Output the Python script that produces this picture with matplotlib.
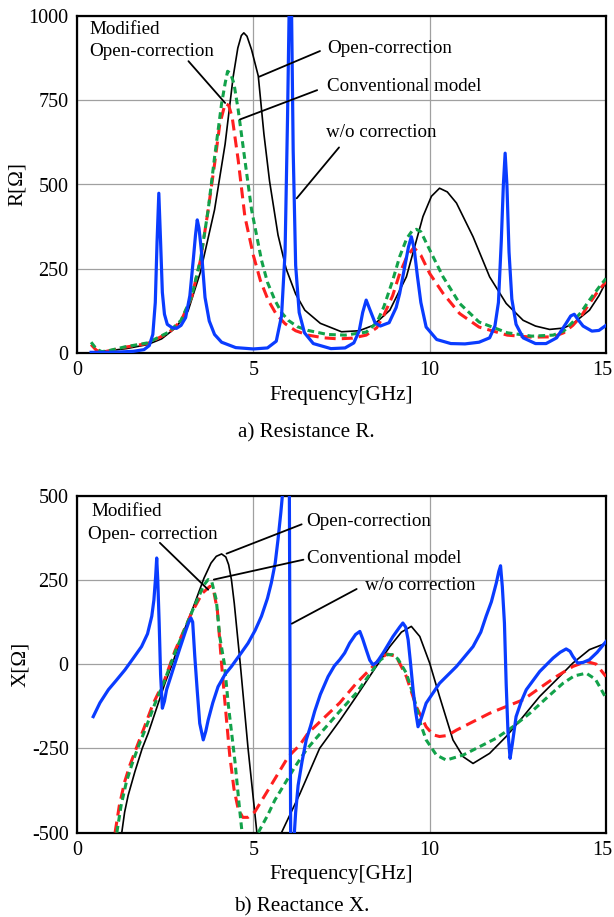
import numpy as np
import matplotlib
matplotlib.use("Agg")
import matplotlib.pyplot as plt
from matplotlib.transforms import ScaledTranslation

plt.rcParams['font.family'] = ['Liberation Serif', 'DejaVu Serif']
plt.rcParams['axes.unicode_minus'] = False

# ---- a) Resistance R ----
f_r_open = [0.45, 1.0, 1.4, 2.0, 2.4, 2.8, 3.15, 3.5, 3.9, 4.2, 4.43, 4.56, 4.66, 4.73, 4.82, 4.95, 5.14,
            5.3, 5.46, 5.7, 5.93, 6.2, 6.46, 6.9, 7.5, 8.0, 8.4, 8.87, 9.34, 9.81, 10.05, 10.28, 10.5,
            10.76, 11.23, 11.7, 12.17, 12.65, 13.0, 13.4, 13.8, 14.06, 14.53, 14.8, 15.0]
r_open = [3, 8, 13, 25, 42, 75, 125, 240, 425, 620, 821, 905, 942, 950, 940, 900, 822,
          650, 510, 350, 250, 175, 127, 88, 63, 66, 82, 127, 226, 405, 465, 489, 478,
          445, 345, 226, 147, 97, 80, 70, 74, 87, 127, 170, 211]

f_r_mod = [0.4, 0.55, 0.7, 0.9, 1.35, 2.0, 2.6, 2.95, 3.25, 3.5, 3.72, 3.9, 4.05, 4.2, 4.3, 4.4, 4.57,
           4.76, 5.0, 5.2, 5.42, 5.65, 5.9, 6.2, 6.55, 7.0, 7.4, 7.8, 8.2, 8.5, 8.7, 8.95, 9.15, 9.35,
           9.55, 9.75, 10.0, 10.38, 10.85, 11.4, 12.2, 12.9, 13.5, 13.8, 14.06, 14.3, 14.53, 14.75, 15.0]
r_mod = [25, 8, 3, 6, 17, 28, 60, 95, 165, 275, 425, 560, 680, 740, 735, 700, 573,
         405, 290, 215, 157, 115, 87, 66, 53, 45, 42, 44, 53, 75, 112, 170, 236, 285,
         313, 290, 236, 177, 117, 77, 53, 47, 48, 60, 82, 110, 147, 180, 212]

f_r_conv = [0.4, 0.55, 0.7, 0.9, 1.35, 2.0, 2.6, 2.95, 3.25, 3.5, 3.72, 3.9, 4.1, 4.2, 4.27, 4.35, 4.45,
            4.57, 4.76, 4.95, 5.23, 5.4, 5.61, 5.8, 5.99, 6.25, 6.55, 7.1, 7.6, 8.2, 8.5, 8.7, 8.95,
            9.15, 9.35, 9.5, 9.62, 9.75, 10.0, 10.38, 10.85, 11.4, 12.2, 12.9, 13.5, 13.8, 14.06,
            14.3, 14.53, 14.8, 15.0]
r_conv = [32, 12, 4, 7, 18, 30, 62, 97, 167, 276, 425, 580, 740, 800, 836, 830, 800,
          722, 573, 425, 276, 210, 157, 120, 97, 78, 67, 55, 53, 62, 90, 137, 215,
          286, 340, 362, 367, 360, 306, 226, 147, 92, 60, 50, 53, 65, 92,
          122, 157, 195, 221]

f_r_wo = [0.4, 0.8, 1.2, 1.6, 1.9, 2.05, 2.15, 2.22, 2.27, 2.32, 2.37, 2.42, 2.48, 2.56, 2.7, 2.82,
          2.95, 3.08, 3.2, 3.3, 3.36, 3.41, 3.46, 3.53, 3.63, 3.75, 3.9, 4.1, 4.5, 5.0, 5.4, 5.65,
          5.8, 5.9, 5.97, 6.02, 6.05, 6.08, 6.13, 6.2, 6.3, 6.45, 6.7, 7.2, 7.6, 7.85, 8.0, 8.1,
          8.2, 8.3, 8.45, 8.6, 8.85, 9.05, 9.15, 9.3, 9.4, 9.48, 9.56, 9.65, 9.75, 9.9, 10.2, 10.6,
          11.0, 11.4, 11.7, 11.85, 11.95, 12.03, 12.09, 12.14, 12.19, 12.25, 12.33, 12.45, 12.65,
          13.0, 13.3, 13.6, 13.85, 14.0, 14.1, 14.2, 14.35, 14.6, 14.8, 15.0]
r_wo = [2, 2, 3, 5, 10, 22, 55, 150, 330, 474, 330, 180, 115, 85, 75, 73,
        82, 105, 170, 280, 350, 395, 370, 300, 165, 95, 55, 32, 16, 12, 15, 35,
        110, 300, 700, 1050, 1150, 1050, 600, 260, 120, 60, 28, 13, 15, 30, 65, 120,
        157, 130, 90, 80, 90, 135, 177, 260, 315, 345, 310, 230, 150, 77, 40, 28,
        27, 32, 45, 80, 150, 330, 500, 593, 500, 300, 160, 85, 45,
        28, 28, 45, 85, 110, 115, 100, 80, 65, 67, 82]

# ---- b) Reactance X ----
f_x_open = [1.27, 1.35, 1.45, 1.64, 1.85, 2.02, 2.5, 2.7, 2.97, 3.3, 3.6, 3.8, 3.95, 4.1, 4.22, 4.3,
            4.38, 4.46, 4.54, 4.63, 4.74, 4.85, 4.98, 5.1, np.nan, 5.8, 6.32, 6.88, 7.45, 7.92, 8.39,
            8.87, 9.2, 9.48, 9.72, 10.0, 10.28, 10.66, 10.95, 11.23, 11.7, 12.17, 12.65, 13.12, 13.59,
            14.06, 14.53, 15.0]
x_open = [-500, -440, -390, -320, -250, -205, -55, 0, 82, 170, 255, 300, 320, 327, 318, 295,
          250, 180, 95, 0, -125, -250, -380, -500, np.nan, -500, -385, -250, -168, -96, -22,
          52, 95, 112, 82, 3, -96, -225, -275, -295, -265, -215, -156, -96, -47,
          3, 43, 62]

f_x_mod = [1.08, 1.2, 1.35, 1.5, 1.68, 1.9, 2.15, 2.49, 2.78, 3.25, 3.55, 3.77, 3.88, 3.98, 4.1, 4.2,
           4.33, 4.45, 4.57, 4.7, 4.85, 5.04, 5.5, 5.99, 6.32, 6.55, 7.45, 7.92, 8.39, 8.6, 8.8, 9.05,
           9.34, 9.62, 9.9, 10.1, 10.28, 10.5, 10.76, 11.23, 11.7, 12.17, 12.65, 13.12, 13.59, 14.06,
           14.44, 14.72, 15.0]
x_mod = [-500, -420, -350, -300, -250, -190, -120, -45, 40, 152, 210, 231, 215, 160, 0, -120,
         -270, -370, -430, -455, -455, -439, -360, -275, -240, -205, -115, -57, -7, 18, 30, 23,
         -37, -126, -186, -210, -215, -212, -196, -171, -146, -126, -106, -71, -37, -7,
         8, 0, -37]

f_x_conv = [1.13, 1.25, 1.4, 1.55, 1.72, 1.95, 2.2, 2.49, 2.8, 3.3, 3.6, 3.72, 3.82, 3.95, 4.05,
            4.18, 4.29, 4.48, 4.6, 4.68, np.nan, 5.14, 5.4, 5.61, 6.18, 6.5, 6.74, 7.45, 7.92, 8.39,
            8.6, 8.8, 8.95, 9.1, 9.34, 9.5, 9.62, 9.75, 9.9, 10.19, 10.47, 10.95, 11.42, 11.89,
            12.36, 12.84, 13.31, 13.78, 14.1, 14.44, 14.7, 14.82, 15.0]
x_conv = [-500, -420, -350, -300, -250, -190, -120, -47, 40, 165, 235, 251, 245, 190, 80,
          0, -120, -290, -420, -500, np.nan, -500, -450, -404, -305, -255, -225, -140, -86, -17,
          12, 28, 28, 15, -27, -80, -126, -180, -225, -270, -285, -270, -245, -220,
          -186, -146, -101, -57, -35, -27, -45, -67, -101]

f_x_wo = [0.46, 0.65, 0.89, 1.1, 1.36, 1.6, 1.83, 2.0, 2.12, 2.18, 2.23, 2.26, 2.29, 2.33, 2.37, 2.42,
          2.48, 2.54, 2.65, 2.78, 2.92, 3.06, 3.16, 3.23, 3.28, 3.34, 3.41, 3.48, 3.58, 3.65, 3.72,
          3.85, 4.0, 4.2, 4.38, 4.6, 4.85, 5.05, 5.23, 5.4, 5.51, 5.62, 5.7, 5.78, 5.84, 5.92, 5.98,
          6.02, 6.04, 6.06, 6.1, 6.14, 6.2, 6.27, 6.38, 6.5, 6.62, 6.74, 6.9, 7.12, 7.3, 7.45, 7.59,
          7.73, 7.9, 8.02, 8.1, 8.2, 8.3, 8.39, 8.5, 8.68, 8.96, 9.15, 9.24, 9.32, 9.39, 9.46, 9.53,
          9.6, 9.67, 9.75, 9.9, 10.28, 10.76, 11.23, 11.45, 11.6, 11.75, 11.89, 11.96, 12.01, 12.06,
          12.12, 12.17, 12.22, 12.28, 12.34, 12.45, 12.6, 12.74, 13.12, 13.5, 13.7, 13.87, 13.98,
          14.06, 14.2, 14.35, 14.53, 14.75, 15.0]
x_wo = [-156, -115, -76, -50, -17, 18, 52, 90, 142, 190, 260, 315, 250, 122, -30, -131,
        -110, -76, -40, 3, 48, 92, 122, 137, 125, 23, -80, -176, -225, -200, -166,
        -115, -67, -30, -7, 25, 62, 100, 142, 195, 241, 300, 370, 450, 519, 700, 750,
        550, 0, -550, -750, -540, -440, -360, -290, -225, -185, -140, -90, -37, -5, 13, 33,
        62, 88, 97, 75, 43, 12, -2, 5, 33, 82, 110, 122, 110, 72, 0, -76,
        -140, -186, -165, -116, -57, -7, 52, 95, 142, 185, 241, 275, 292, 230,
        122, -60, -200, -280, -240, -156, -110, -76, -22, 18, 35, 45, 38,
        23, 3, 5, 13, 35, 67]

x_ticks = [0, 5, 10, 15]
r_ticks = [0, 250, 500, 750, 1000]
x_react_ticks = [-500, -250, 0, 250, 500]

C_BLACK = "black"
C_RED = "#ff1f1f"
C_GREEN = "#12a24a"
C_BLUE = "#0a3cff"
FS = 13.7      # annotations
FS_TICK = 14.5
FS_LAB = 15.2


def style_axes(fig, ax, yticks, ylim, ylabel):
    ax.set_xlim(0, 15)
    ax.set_ylim(*ylim)
    ax.set_xticks(x_ticks)
    ax.set_yticks(yticks)
    ax.tick_params(length=0, labelsize=FS_TICK, pad=6)
    ax.grid(True, color="#a0a0a0", lw=0.9)
    ax.set_axisbelow(True)
    for s in ax.spines.values():
        s.set_linewidth(1.6)
        s.set_color("black")
    ax.set_ylabel(ylabel, fontsize=FS_LAB, labelpad=1)
    ax.set_xlabel("Frequency[GHz]", fontsize=FS_LAB, labelpad=4)
    # last x label sits slightly left, inside the figure
    lbl = ax.get_xticklabels()[-1]
    lbl.set_transform(lbl.get_transform() + ScaledTranslation(-4 / 100, 0, fig.dpi_scale_trans))


def draw_curves(ax, f_o, y_o, f_m, y_m, f_c, y_c, f_w, y_w):
    ax.plot(f_o, y_o, color=C_BLACK, lw=1.2, zorder=3)
    ax.plot(f_m, y_m, color=C_RED, lw=2.2, ls=(0, (3.6, 2.0)), zorder=4)
    ax.plot(f_c, y_c, color=C_GREEN, lw=2.2, ls=(0, (2.2, 1.4)), zorder=5)
    ax.plot(f_w, y_w, color=C_BLUE, lw=2.3, zorder=6)


def leader(ax, p_from, p_to):
    ax.annotate("", xy=p_to, xytext=p_from,
                arrowprops=dict(arrowstyle="-", color="black", lw=1.3,
                                shrinkA=0, shrinkB=0), zorder=8)


fig = plt.figure(figsize=(6.14, 9.17), dpi=100)
ax1 = fig.add_axes([77 / 614, 1 - 353 / 917, 529 / 614, 337 / 917])
ax2 = fig.add_axes([77 / 614, 1 - 832.5 / 917, 529 / 614, 336.8 / 917])

# top panel
draw_curves(ax1, f_r_open, r_open, f_r_mod, r_mod, f_r_conv, r_conv, f_r_wo, r_wo)
style_axes(fig, ax1, r_ticks, (0, 1000), "R[Ω]")
ax1.text(0.34, 960, "Modified", fontsize=FS, va="center", ha="left")
ax1.text(0.34, 896, "Open-correction", fontsize=FS, va="center", ha="left")
leader(ax1, (3.16, 866), (4.2, 742))
ax1.text(7.11, 904, "Open-correction", fontsize=FS, va="center", ha="left")
leader(ax1, (6.89, 896), (5.17, 820))
ax1.text(7.08, 791, "Conventional model", fontsize=FS, va="center", ha="left")
leader(ax1, (6.81, 780), (4.62, 693))
ax1.text(7.05, 654, "w/o correction", fontsize=FS, va="center", ha="left")
leader(ax1, (7.43, 610), (6.23, 459))
fig.text(306 / 614, 1 - 433 / 917, "a) Resistance R.", fontsize=FS_LAB, ha="center", va="center")

# bottom panel
draw_curves(ax2, f_x_open, x_open, f_x_mod, x_mod, f_x_conv, x_conv, f_x_wo, x_wo)
style_axes(fig, ax2, x_react_ticks, (-500, 500), "X[Ω]")
ax2.text(0.42, 453, "Modified", fontsize=FS, va="center", ha="left")
ax2.text(0.30, 385, "Open- correction", fontsize=FS, va="center", ha="left")
leader(ax2, (2.35, 360), (3.72, 221))
ax2.text(6.51, 423, "Open-correction", fontsize=FS, va="center", ha="left")
leader(ax2, (6.37, 415), (4.24, 328))
ax2.text(6.51, 313, "Conventional model", fontsize=FS, va="center", ha="left")
leader(ax2, (6.42, 310), (3.88, 251))
ax2.text(8.17, 233, "w/o correction", fontsize=FS, va="center", ha="left")
leader(ax2, (7.93, 223), (6.09, 120))
fig.text(302 / 614, 1 - 907 / 917, "b) Reactance X.", fontsize=FS_LAB, ha="center", va="center")

fig.savefig("out.png", dpi=100)
